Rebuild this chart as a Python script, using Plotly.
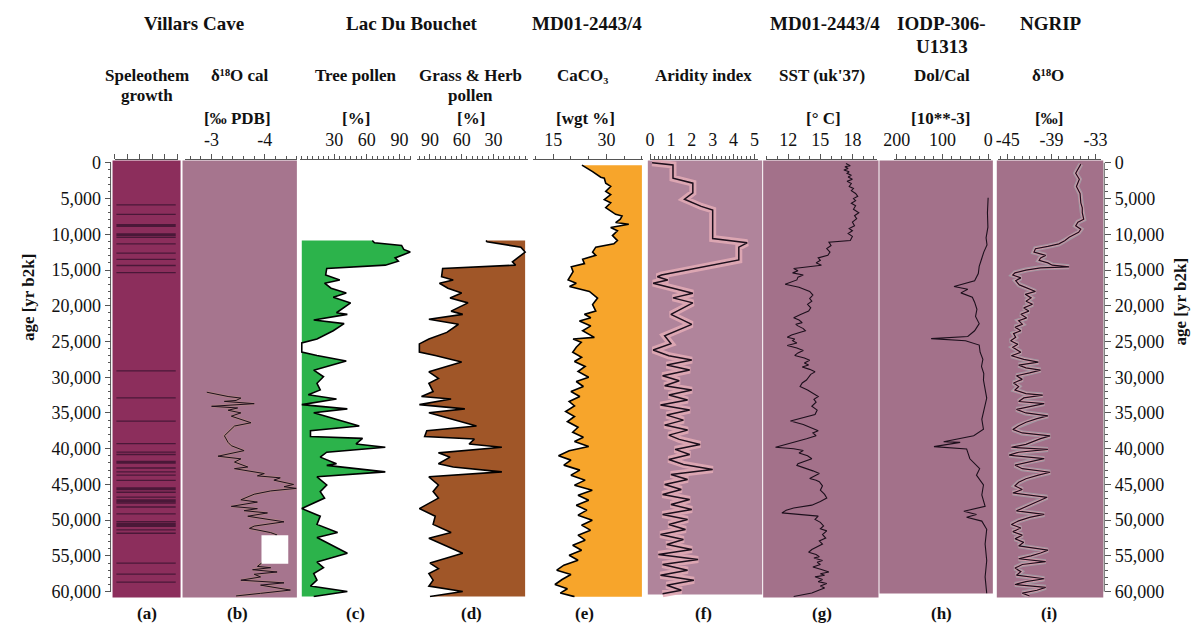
import plotly.graph_objects as go

FIG_W, FIG_H = 1197, 636
SERIF = "Liberation Serif"
AXIS_GREY = "#555555"


def fx(p):
    """Horizontal pixel position -> paper fraction."""
    return p / FIG_W


def fy(p):
    """Vertical pixel position (from top) -> paper fraction."""
    return 1 - p / FIG_H


# ---------------------------------------------------------------- data ----
# (a) Villars Cave speleothem growth layers, age [yr b2k]
growth_thin = [5880, 7210, 10430, 11350, 12630, 13500, 14370, 15380, 29100, 32900,
               36130, 39300, 40490, 40810, 42700, 43250, 43700, 44440, 46090, 46780,
               47600, 48160, 49120, 50220, 50870, 51370, 51830, 56010, 57560, 58670]
growth_thick = [8770, 10060, 41910, 45590, 47290, 50590]

# (b) Villars Cave calcite d18O [permil PDB]
calcite_age = [32100, 32470, 32700, 32920, 33250, 33380, 33700, 34070, 34300, 34620,
               34990, 35450, 36370, 36830, 38200, 39120, 39580, 40270, 41050, 41420,
               41870, 42560, 42790, 43480, 43800, 44080, 44400, 45000, 45320, 45550,
               45910, 46370, 47150, 47470, 48070, 48390, 48670, 48990, 49450, 50230,
               50830, 51150, 51740, 52070, 52890, 54270, 55640, 56470, 56650, 56930,
               57250, 57570, 57940, 58400, 58770, 59090, 59550, 59780, 60240, 60600]
calcite_d18o = [-2.91, -3.18, -3.31, -3.55, -3.46, -3.24, -3.80, -3.00, -3.49, -3.31,
                -3.55, -3.37, -3.74, -3.43, -3.24, -3.31, -3.37, -3.61, -3.12, -3.55,
                -3.43, -3.68, -3.43, -3.99, -3.86, -4.29, -4.17, -4.54, -4.36, -4.59,
                -4.11, -3.80, -3.55, -3.86, -3.37, -3.86, -3.61, -4.05, -3.68, -4.36,
                -3.80, -3.71, -4.11, -4.23, -4.05, -4.18, -4.00, -3.86, -4.11, -3.77,
                -4.23, -3.80, -3.92, -3.55, -4.36, -3.92, -4.29, -4.48, -3.92, -3.46]
calcite_gap = (52110, 56100)  # hiatus masked in the record

# (c) Lac du Bouchet tree pollen [%]
tree_age = [10880, 11200, 11570, 12120, 12490, 13310, 13770, 14320, 14780, 15700,
            16390, 16850, 17540, 18230, 18820, 19600, 20980, 21210, 21990, 22500,
            23500, 24650, 25200, 26490, 26950, 27730, 29010, 29930, 30850, 31770,
            32450, 33050, 33830, 34430, 34980, 36820, 37500, 38290, 38560, 39340,
            39800, 40490, 41180, 42100, 42330, 43240, 43930, 45080, 46000, 46910,
            48380, 49440, 50590, 51730, 52420, 54630, 55860, 56650, 57470, 58390,
            59220, 59990, 60690]
tree_pct = [65, 67, 92, 94, 100, 86, 89, 77, 23, 22,
            35, 21, 27, 41, 29, 45, 32, 42, 11, 39,
            29, 14, 0, 0, 14, 41, 11, 20, 14, 17,
            6, 32, 0, 42, 11, 53, 8, 8, 56, 50,
            77, 23, 17, 32, 23, 77, 14, 23, 17, 21,
            0, 17, 14, 33, 14, 42, 14, 20, 11, 14,
            8, 42, 11]

# (d) Lac du Bouchet grass & herb pollen [%]
grass_age = [10880, 11050, 11800, 12490, 13870, 14320, 14780, 15930, 16390, 16850,
             17540, 18230, 18910, 19600, 20750, 21210, 21900, 22590, 23730, 24650,
             25340, 26490, 26950, 27870, 29240, 30160, 30850, 32000, 32690, 33050,
             33830, 34430, 34980, 36820, 37500, 38290, 38650, 39340, 39800, 40580,
             41180, 42100, 42560, 43240, 43930, 45080, 46000, 46910, 48380, 49440,
             50590, 51730, 52520, 54630, 56000, 56780, 57470, 58390, 59220, 59990,
             60690]
grass_pct = [37, 36, 4, 0, 12, 9, 78, 79, 68, 81,
             73, 60, 71, 54, 70, 59, 91, 63, 74, 91,
             100, 100, 85, 60, 91, 82, 91, 87, 98, 70,
             100, 57, 91, 46, 93, 95, 48, 53, 22, 82,
             71, 82, 68, 22, 91, 82, 87, 82, 100, 85,
             87, 70, 91, 59, 90, 82, 91, 87, 91, 59,
             90]

# (e) MD01-2443/4 CaCO3 [wgt %]
caco3_age = [326, 785, 1240, 2020, 2160, 2850, 3310, 3990, 4460, 5150,
             5600, 6290, 7210, 7440, 7900, 8360, 8590, 9050, 9510, 10190,
             10880, 11340, 11800, 12490, 12950, 13500, 14100, 14550, 15240, 16390,
             16850, 17310, 18000, 18920, 19830, 20750, 21210, 21670, 22130, 22820,
             23500, 24420, 24650, 25110, 25800, 26500, 27200, 27800, 28500, 29200,
             30000, 30600, 31300, 32000, 32700, 33400, 34000, 34800, 35500, 36200,
             37000, 37700, 38400, 39000, 39700, 40300, 41000, 41600, 42300, 43000,
             43700, 44400, 45100, 45800, 46500, 47200, 47900, 48600, 49300, 50000,
             50700, 51400, 52100, 52800, 53500, 54200, 54900, 55600, 56300, 57000,
             57600, 58300, 59000, 59600, 60200, 60700]
caco3_wgt = [23.1, 24.7, 26.1, 28.4, 29.4, 29.8, 31.2, 29.8, 31.2, 29.4,
             31.2, 29.8, 32.6, 34.4, 33.9, 32.6, 36.3, 31.2, 33.1, 31.7,
             33.1, 32.1, 27.0, 26.1, 27.0, 23.3, 23.8, 20.1, 20.6, 19.2,
             21.5, 19.6, 25.2, 27.5, 26.1, 27.0, 23.8, 25.6, 22.4, 25.6,
             23.3, 26.6, 20.6, 22.9, 21.5, 20.5, 23.0, 21.0, 24.0, 22.0,
             25.0, 21.5, 23.5, 20.0, 22.5, 19.5, 21.0, 18.5, 21.0, 19.0,
             22.0, 20.5, 23.5, 21.0, 25.0, 19.5, 16.5, 20.0, 18.0, 22.5,
             20.0, 24.0, 21.0, 26.0, 22.0, 25.0, 21.5, 24.5, 22.0, 26.0,
             23.0, 25.5, 22.0, 24.0, 20.5, 23.0, 19.5, 22.0, 18.0, 16.0,
             20.0, 17.5, 15.5, 19.0, 17.0, 21.0]

# (f) MD01-2443/4 aridity index
arid_age = [0, 300, 2150, 2850, 4200, 5100, 6100, 6600, 10600, 11200,
            11800, 13600, 15700, 15950, 16400, 16850, 18250, 18900, 19600, 21200,
            22600, 24200, 25300, 26200, 27000, 27600, 28300, 29000, 29800, 30500,
            31200, 31800, 32500, 33200, 33900, 34600, 35300, 36000, 36700, 37400,
            38100, 38700, 39400, 40100, 40800, 41500, 42200, 42900, 43600, 44300,
            45000, 45700, 46400, 47100, 47800, 48500, 49200, 49900, 50600, 51300,
            52000, 52700, 53400, 54100, 54800, 55500, 56200, 57000, 57700, 58400,
            59100, 59800, 60300]
arid_idx = [0.1, 1.1, 1.1, 2.05, 2.05, 1.65, 2.45, 3.0, 3.0, 4.65,
            4.25, 4.25, 0.55, 0.35, 0.85, 0.15, 2.05, 1.1, 2.05, 1.0,
            2.0, 0.7, 1.0, 0.15, 0.9, 2.0, 0.8, 1.9, 0.6, 1.4,
            0.7, 2.0, 0.9, 1.8, 0.5, 1.9, 0.8, 1.6, 0.7, 1.8,
            0.9, 1.4, 2.4, 1.2, 1.9, 0.9, 1.6, 3.0, 1.0, 1.8,
            0.7, 1.5, 0.6, 1.9, 1.0, 2.0, 0.6, 1.8, 0.9, 1.7,
            0.5, 1.6, 0.8, 2.0, 0.4, 2.3, 0.6, 1.8, 0.5, 2.1,
            0.8, 1.5, 0.6]

# (g) MD01-2443/4 alkenone SST [deg C]
sst_age = [100, 400, 555, 800, 1000, 1250, 1470, 1750, 2000, 2300,
           2600, 2900, 3310, 3600, 3900, 4300, 4690, 5000, 5300, 5650,
           6000, 6500, 7000, 7400, 7800, 8300, 8820, 9200, 9500, 9900,
           10300, 10880, 11100, 11570, 12000, 12500, 12950, 13300, 13640, 14000,
           14330, 14780, 15100, 15400, 15700, 16000, 16390, 16700, 16990, 17400,
           17700, 18000, 18500, 19000, 19370, 19800, 20300, 20750, 21200, 21670,
           22000, 22360, 22600, 22820, 23200, 23500, 23800, 24100, 24420, 24650,
           24880, 25200, 25570, 25900, 26260, 26600, 26950, 27300, 27640, 28000,
           28300, 28560, 28900, 29250, 29600, 30000, 30390, 30800, 31310, 31800,
           32200, 32690, 33100, 33500, 34060, 34600, 35210, 35600, 35900, 36130,
           36600, 37000, 37500, 37800, 38190, 38600, 39000, 39400, 39800, 40000,
           40260, 40600, 41000, 41400, 41800, 42100, 42330, 42700, 43100, 43470,
           43800, 44160, 44400, 44620, 45200, 45800, 46400, 46910, 47400, 47900,
           48300, 48600, 48980, 49200, 49440, 49900, 50300, 50800, 51200, 51500,
           52000, 52500, 52900, 53340, 53800, 54100, 54490, 54800, 55100, 55300,
           55630, 55900, 56200, 56550, 56900, 57240, 57500, 57700, 57930, 58300,
           58600, 58850, 59200, 59500, 59760, 60200, 60690]
sst_c = [17.4, 17.8, 17.3, 17.6, 17.2, 17.7, 17.5, 17.9, 17.6, 18.0,
         17.5, 17.9, 17.7, 18.1, 17.9, 18.3, 18.5, 18.1, 18.3, 17.9,
         18.3, 18.1, 18.6, 18.2, 18.4, 18.0, 18.2, 17.7, 18.0, 17.6,
         18.0, 17.8, 15.8, 16.0, 15.6, 15.9, 15.7, 14.8, 15.0, 14.6,
         15.1, 12.5, 12.9, 12.4, 13.4, 12.9, 12.8, 12.3, 11.7, 13.0,
         13.6, 14.0, 14.3, 14.0, 14.2, 13.8, 14.1, 13.9, 13.2, 12.5,
         13.0, 13.3, 12.7, 12.9, 13.4, 13.6, 12.9, 12.3, 11.9, 12.6,
         12.4, 12.8, 11.9, 12.8, 13.4, 12.9, 12.6, 13.5, 14.0, 13.5,
         13.9, 13.3, 14.0, 14.5, 14.1, 13.9, 13.7, 13.3, 13.1, 13.8,
         14.3, 14.8, 14.4, 14.6, 14.2, 14.7, 14.5, 13.5, 12.6, 12.2,
         13.4, 14.0, 14.8, 14.3, 14.6, 13.7, 12.8, 11.8, 10.8, 12.5,
         13.4, 13.0, 13.8, 14.2, 13.4, 12.9, 12.8, 13.6, 14.3, 14.9,
         14.4, 14.0, 14.6, 14.9, 15.2, 15.0, 15.4, 15.6, 15.0, 14.2,
         12.5, 11.8, 11.4, 13.0, 14.8, 14.5, 15.0, 15.3, 15.0, 15.6,
         15.2, 15.5, 14.9, 15.2, 14.6, 14.2, 13.9, 14.6, 14.9, 14.4,
         15.2, 14.7, 15.0, 14.3, 15.1, 15.8, 15.0, 15.4, 14.5, 15.2,
         14.8, 15.6, 15.0, 15.4, 14.9, 14.2, 12.5]

# (h) IODP-306-U1313 dolomite / calcite ratio [10**-3]
dolcal_age = [4900, 7000, 9000, 10500, 11500, 12500, 13500, 14500, 15500, 16500,
              17300, 17700, 18200, 18800, 19500, 20500, 21500, 22500, 23500, 24300,
              24600, 24900, 25500, 26500, 27500, 28500, 29500, 30390, 32920, 35900,
              37280, 38200, 39020, 39120, 39710, 40030, 41410, 42790, 43700, 45080,
              46460, 48070, 48750, 49210, 49580, 50130, 51280, 53340, 55640, 57940,
              60230]
dolcal = [0.5, 2, 1, 5, 3, 10, 15, 20, 22, 30,
          75, 45, 60, 35, 30, 25, 28, 20, 30, 45,
          125, 50, 20, 18, 12, 15, 10, 10.7, 3.6, 14.3,
          10.7, 32, 97.7, 61.6, 118.8, 47.5, 40.4, 19, 26, 10.7,
          14.3, 7.1, 53.5, 26, 47.5, 14.3, 3.6, 7.1, 3.6, 7.1,
          3.6]

# (i) NGRIP ice-core d18O [permil]
ngrip_age = [188, 700, 1470, 2300, 3310, 4300, 5600, 6300, 6980, 7900,
             8300, 8820, 9300, 9730, 10420, 10900, 11340, 11700, 12030, 12490,
             12950, 13300, 13640, 14000, 14330, 14550, 14700, 15010, 15400, 15700,
             16100, 16500, 17080, 17500, 18000, 18400, 18900, 19370, 19800, 20300,
             20750, 21200, 21700, 22100, 22580, 23000, 23500, 23900, 24420, 24900,
             25400, 25800, 26500, 27000, 27500, 27900, 28300, 28700, 29000, 29400,
             29800, 30300, 30800, 31300, 31800, 32300, 32500, 32900, 33400, 33700,
             34100, 34500, 35000, 35400, 35800, 36300, 36800, 37300, 37800, 38200,
             38600, 39000, 39400, 39800, 40100, 40500, 40900, 41400, 41800, 42300,
             42800, 43300, 43700, 44200, 44700, 45200, 45700, 46200, 46800, 47200,
             47700, 48200, 48700, 49200, 49600, 50100, 50600, 51100, 51600, 52100,
             52600, 53100, 53600, 54200, 54600, 55000, 55400, 55800, 56200, 56700,
             57200, 57700, 58200, 58600, 59000, 59400, 59800, 60200, 60600]
ngrip_d18o = [-35.0, -35.3, -35.7, -35.2, -35.6, -35.1, -35.0, -34.8, -34.8, -34.6,
              -35.4, -35.7, -35.0, -35.3, -36.6, -37.2, -38.0, -39.5, -41.2, -41.4,
              -39.8, -40.5, -40.7, -39.5, -38.9, -36.6, -40.5, -42.5, -44.0, -44.3,
              -43.2, -43.9, -43.4, -42.4, -41.2, -42.6, -41.8, -42.5, -41.6, -42.8,
              -42.1, -43.2, -42.4, -43.5, -43.0, -44.0, -43.2, -44.2, -43.9, -44.6,
              -43.6, -44.3, -43.2, -44.5, -42.8, -40.8, -43.5, -42.5, -40.5, -42.0,
              -43.8, -43.0, -44.2, -43.5, -44.0, -42.5, -40.2, -42.8, -43.5, -40.0,
              -42.0, -43.8, -42.5, -39.5, -41.0, -42.5, -43.5, -44.3, -43.0, -39.2,
              -40.5, -41.5, -42.5, -44.5, -39.5, -43.5, -44.8, -40.0, -42.0, -44.0,
              -43.0, -39.2, -40.8, -42.5, -43.5, -44.0, -43.0, -44.3, -39.6, -40.5,
              -41.5, -42.5, -43.8, -40.0, -42.0, -43.5, -44.5, -43.2, -44.3, -43.0,
              -44.0, -42.8, -43.5, -39.5, -40.5, -41.8, -43.5, -39.8, -43.0, -44.0,
              -43.2, -43.8, -40.0, -42.5, -44.0, -39.8, -41.0, -43.0, -42.0]

# tick labels on the top axes
ticks_b = [-3, -4]
ticks_c = [30, 60, 90]
ticks_d = [90, 60, 30]
ticks_e = [15, 30]
ticks_g = [12, 15, 18]
ticks_h = [200, 100, 0]
ticks_i = [-45, -39, -33]

# ------------------------------------------------------------- layout -----
AGE_RANGE = [60826, -454]          # bottom, top (age grows downwards)
Y_DOMAIN = [fy(601), fy(156)]

INK = "#111111"
LINE_DARK = "#1c0f1c"


def top_axis(px0, px1, rng, tickvals=None, dtick=None, minor=None, labels=True):
    ax = dict(domain=[fx(px0), fx(px1)], range=rng, anchor="y", side="top",
              showline=True, linecolor=AXIS_GREY, linewidth=1,
              ticks="outside", ticklen=5, tickwidth=1, tickcolor=AXIS_GREY,
              showgrid=False, zeroline=False, showticklabels=labels,
              tickfont=dict(family=SERIF, size=18, color=INK), fixedrange=True)
    if tickvals is not None:
        ax.update(tickmode="array", tickvals=tickvals,
                  ticktext=[f"{v:g}" for v in tickvals])
    if dtick is not None:
        ax.update(tickmode="linear", tick0=0, dtick=dtick)
    if minor is not None:
        ax["minor"] = dict(tick0=0, dtick=minor, ticks="outside", ticklen=3,
                           tickwidth=1, tickcolor=AXIS_GREY, showgrid=False)
    return ax


x_axes = {
    "xaxis":  top_axis(105, 169, [0, 1], dtick=0.2, labels=False),
    "xaxis2": top_axis(176, 290, [-2.491, -4.602], tickvals=ticks_b, minor=0.2),
    "xaxis3": top_axis(293, 406, [-1.8, 100.9], tickvals=ticks_c, minor=5),
    "xaxis4": top_axis(412, 524, [102.1, -2.3], tickvals=ticks_d, minor=5),
    "xaxis5": top_axis(530, 641, [9.44, 40.28], tickvals=ticks_e, minor=5),
    "xaxis6": top_axis(648, 758, [-0.01, 5.18], dtick=1, minor=0.2),
    "xaxis7": top_axis(766, 878, [9.92, 20.26], tickvals=ticks_g, minor=1),
    "xaxis8": top_axis(896, 994, [205.5, -5.5], tickvals=ticks_h, minor=20),
    "xaxis9": top_axis(1001, 1106, [-46.35, -32.2], tickvals=ticks_i, minor=1),
}

age_axis = dict(domain=Y_DOMAIN, range=AGE_RANGE, showline=False, showgrid=False,
                zeroline=False, ticks="outside", ticklen=6, tickwidth=1,
                tickcolor=AXIS_GREY, tick0=0, dtick=5000, tickformat=",d",
                tickfont=dict(family=SERIF, size=18, color=INK), fixedrange=True,
                minor=dict(tick0=0, dtick=1000, ticks="outside", ticklen=3,
                           tickwidth=1, tickcolor=AXIS_GREY, showgrid=False))

fig = go.Figure()

# (a) growth layers as horizontal bands
def band_xy(ages):
    xs, ys = [], []
    for a in ages:
        xs += [0.03, 0.97, None]
        ys += [a, a, None]
    return xs, ys

gx, gy = band_xy(growth_thin)
fig.add_trace(go.Scatter(x=gx, y=gy, mode="lines", xaxis="x", yaxis="y",
                         line=dict(color="#4a1838", width=1.3), hoverinfo="skip"))
gx, gy = band_xy(growth_thick)
fig.add_trace(go.Scatter(x=gx, y=gy, mode="lines", xaxis="x", yaxis="y",
                         line=dict(color="#4a1838", width=3), hoverinfo="skip"))

# (b) calcite d18O
fig.add_trace(go.Scatter(x=calcite_d18o, y=calcite_age, mode="lines", xaxis="x2", yaxis="y",
                         line=dict(color="rgba(190,150,120,0.45)", width=2.5)))
fig.add_trace(go.Scatter(x=calcite_d18o, y=calcite_age, mode="lines", xaxis="x2", yaxis="y",
                         line=dict(color=LINE_DARK, width=1)))

# (c) tree pollen, filled from zero
fig.add_trace(go.Scatter(x=tree_pct, y=tree_age, mode="lines", fill="tozerox",
                         fillcolor="#2cb34b", xaxis="x3", yaxis="y",
                         line=dict(color="#000000", width=1.6)))

# (d) grass & herb pollen, filled from zero (reversed axis -> right side)
fig.add_trace(go.Scatter(x=grass_pct, y=grass_age, mode="lines", fill="tozerox",
                         fillcolor="#a05628", xaxis="x4", yaxis="y",
                         line=dict(color="#000000", width=1.6)))

# (e) CaCO3, filled towards the right edge of the axis
fig.add_trace(go.Scatter(x=[40, 40], y=[caco3_age[0], caco3_age[-1]], mode="lines",
                         xaxis="x5", yaxis="y", line=dict(width=0), hoverinfo="skip"))
fig.add_trace(go.Scatter(x=caco3_wgt, y=caco3_age, mode="lines", fill="tonextx",
                         fillcolor="#f7a52b", xaxis="x5", yaxis="y",
                         line=dict(color="#000000", width=1.6)))

# (f) aridity index with its uncertainty envelope
fig.add_trace(go.Scatter(x=arid_idx, y=arid_age, mode="lines", xaxis="x6", yaxis="y",
                         line=dict(color="rgba(228,172,182,0.85)", width=7)))
fig.add_trace(go.Scatter(x=arid_idx, y=arid_age, mode="lines", xaxis="x6", yaxis="y",
                         line=dict(color=LINE_DARK, width=1.5)))

# (g) SST
fig.add_trace(go.Scatter(x=sst_c, y=sst_age, mode="lines", xaxis="x7", yaxis="y",
                         line=dict(color=LINE_DARK, width=1.1)))

# (h) Dol/Cal
fig.add_trace(go.Scatter(x=dolcal, y=dolcal_age, mode="lines", xaxis="x8", yaxis="y",
                         line=dict(color=LINE_DARK, width=1.1)))

# (i) NGRIP d18O, raw-data spread behind the smoothed curve
fig.add_trace(go.Scatter(x=ngrip_d18o, y=ngrip_age, mode="lines", xaxis="x9", yaxis="y",
                         line=dict(color="rgba(165,180,180,0.6)", width=5)))
fig.add_trace(go.Scatter(x=ngrip_d18o, y=ngrip_age, mode="lines", xaxis="x9", yaxis="y",
                         line=dict(color="rgba(232,150,170,0.75)", width=2.8)))
fig.add_trace(go.Scatter(x=ngrip_d18o, y=ngrip_age, mode="lines", xaxis="x9", yaxis="y",
                         line=dict(color=LINE_DARK, width=1.2)))

# right-hand age axis carrier
fig.add_trace(go.Scatter(x=[], y=[], xaxis="x9", yaxis="y2", hoverinfo="skip"))

# panel backgrounds (pixel boxes)
panel_boxes = [
    (103, 172, 157, 601, "#8c2e5c"),
    (174, 290, 157, 601, "#a6758e"),
    (646, 762, 157, 598, "#b0849b"),
    (763, 880, 157, 601, "#a3718a"),
    (881, 996, 157, 597, "#a3718a"),
    (1000, 1108, 157, 601, "#a3718a"),
]
shapes = []
for x0, x1, y0, y1, col in panel_boxes:
    shapes.append(dict(type="rect", xref="paper", yref="paper", x0=fx(x0), x1=fx(x1),
                       y0=fy(y1), y1=fy(y0), fillcolor=col, line=dict(width=0),
                       layer="below"))
# masked hiatus in (b)
shapes.append(dict(type="rect", xref="x2", yref="y", x0=-3.937, x1=-4.44,
                   y0=calcite_gap[0], y1=calcite_gap[1], fillcolor="white",
                   line=dict(width=0), layer="above"))
# age axis lines
for xp in (101, 1109):
    shapes.append(dict(type="line", xref="paper", yref="y", x0=fx(xp), x1=fx(xp),
                       y0=0, y1=60000, line=dict(color=AXIS_GREY, width=1)))

# text
annotations = []


def label(text, xp, yp, size=17, angle=0):
    annotations.append(dict(text=f"<b>{text}</b>", x=fx(xp), y=fy(yp), xref="paper",
                            yref="paper", showarrow=False, xanchor="center",
                            yanchor="middle", textangle=angle,
                            font=dict(family=SERIF, size=size, color=INK)))


for t, xp in [("Villars Cave", 186), ("Lac Du Bouchet", 407), ("MD01-2443/4", 584),
              ("MD01-2443/4", 826), ("IODP-306-", 944), ("NGRIP", 1055)]:
    label(t, xp, 18, size=19)
label("U1313", 944, 41, size=19)

for t, xp in [("Speleothem", 137.5), ("δ¹⁸O cal", 232), ("Tree pollen", 350),
              ("Grass &amp; Herb", 466), ("CaCO₃", 580), ("Aridity index", 702),
              ("SST (uk'37)", 823), ("Dol/Cal", 944), ("δ¹⁸O", 1052)]:
    label(t, xp, 71)
label("growth", 137.5, 91)
label("pollen", 466, 91)

for t, xp in [("[‰ PDB]", 230), ("[%]", 350), ("[%]", 467), ("[wgt %]", 583),
              ("[° C]", 824), ("[10**-3]", 943), ("[‰]", 1053)]:
    label(t, xp, 114)

for t, xp in [("(a)", 137.5), ("(b)", 229.5), ("(c)", 349), ("(d)", 467), ("(e)", 582),
              ("(f)", 702), ("(g)", 823), ("(h)", 944), ("(i)", 1053)]:
    label(t, xp, 617)

label("age [yr b2k]", 18, 296, angle=-90)
label("age [yr b2k]", 1186, 300, angle=-90)

fig.update_layout(
    width=FIG_W, height=FIG_H,
    margin=dict(l=0, r=0, t=0, b=0, pad=0),
    paper_bgcolor="white", plot_bgcolor="rgba(0,0,0,0)",
    showlegend=False,
    yaxis=dict(age_axis, anchor="free", position=fx(101), side="left"),
    yaxis2=dict(age_axis, anchor="free", position=fx(1109), side="right",
                overlaying="y"),
    shapes=shapes, annotations=annotations,
    **x_axes,
)

fig.write_html("out.html", config={"displayModeBar": False})
